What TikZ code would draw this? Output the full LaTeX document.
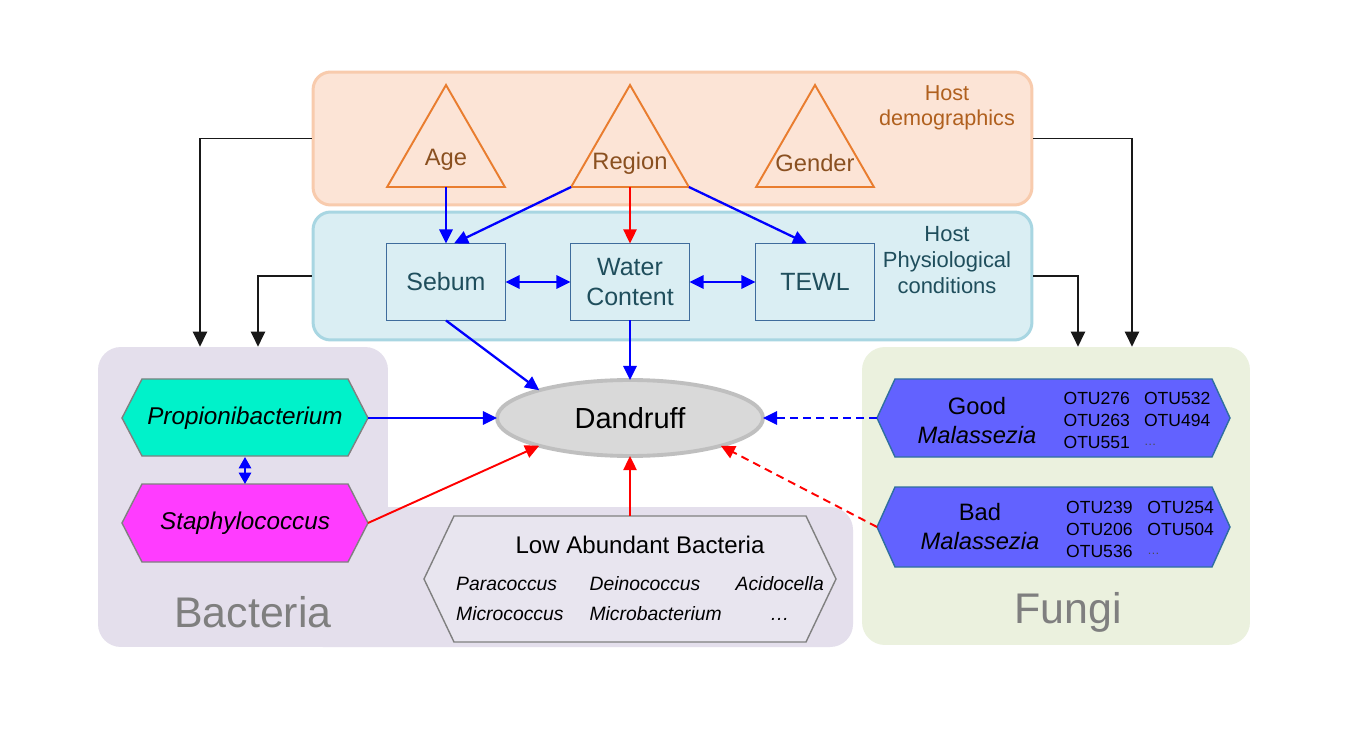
\documentclass[tikz,border=0pt]{standalone}
\usepackage{fontspec}
\setmainfont{Liberation Sans}
\usetikzlibrary{calc,shapes.geometric,arrows.meta}

\definecolor{demofill}{HTML}{FCE4D6}
\definecolor{demoline}{HTML}{F8CBAD}
\definecolor{physfill}{HTML}{DAEEF3}
\definecolor{physline}{HTML}{A8D6E2}
\definecolor{bactfill}{HTML}{E4DFEC}
\definecolor{fungfill}{HTML}{EBF1DE}
\definecolor{triline}{HTML}{E97D2F}
\definecolor{tritext}{HTML}{8A5020}
\definecolor{demotext}{HTML}{B0601E}
\definecolor{boxline}{HTML}{3F6C9C}
\definecolor{boxtext}{HTML}{1F4E5C}
\definecolor{dandfill}{HTML}{D9D9D9}
\definecolor{dandline}{HTML}{BFBFBF}
\definecolor{propfill}{HTML}{00F2CA}
\definecolor{staphfill}{HTML}{FF3CFF}
\definecolor{malfill}{HTML}{6262FF}
\definecolor{malline}{HTML}{2F6F9F}
\definecolor{lowfill}{HTML}{E8E5EF}
\definecolor{hexline}{HTML}{808080}
\definecolor{labelgray}{HTML}{7F7F7F}

\begin{document}
\begin{tikzpicture}[x=0.02cm,y=-0.02cm,
  container/.style={rounded corners=10pt,line width=1.7pt},
  tri/.style={regular polygon,regular polygon sides=3,draw=triline,line width=1.1pt,minimum size=2.72cm,inner sep=0pt,outer sep=0pt},
  tritxt/.style={text=tritext,font=\fontsize{13.5}{16}\selectfont},
  physbox/.style={draw=boxline,fill=physfill,line width=1pt,minimum width=2.38cm,minimum height=1.54cm,align=center,text=boxtext,font=\fontsize{14.2}{17}\selectfont,outer sep=0pt},
  hexnode/.style={minimum height=1.56cm,inner sep=0pt,outer sep=0pt},
  hexname/.style={font=\fontsize{13.8}{16.5}\selectfont\itshape},
  otu/.style={font=\fontsize{10}{12.8}\selectfont},
  biglabel/.style={text=labelgray,font=\fontsize{24.4}{28}\selectfont},
  bluearrow/.style={blue,line width=1.3pt,-{Triangle[length=8pt,width=7.5pt]}},
  bluedouble/.style={blue,line width=1.3pt,{Triangle[length=8pt,width=7.5pt]}-{Triangle[length=8pt,width=7.5pt]}},
  redarrow/.style={red,line width=1.1pt,-{Triangle[length=8pt,width=7.5pt]}},
  blackarrow/.style={black!90,line width=1.1pt,-{Triangle[length=8.5pt,width=8pt]}}]

\useasboundingbox (0,0) rectangle (1352,736);
\fill[white] (0,0) rectangle (1352,736);

% host boxes
\node[container,draw=demoline,fill=demofill,minimum width=14.38cm,minimum height=2.66cm] (demo) at (672.5,138.5) {};
\node[container,draw=physline,fill=physfill,minimum width=14.38cm,minimum height=2.56cm] (phys) at (672.5,276) {};

% bacteria and fungi
\node[rounded corners=13pt,fill=bactfill,minimum width=5.8cm,minimum height=6cm] (bact) at (243,497) {};
\fill[bactfill,rounded corners=13pt] (300,507) rectangle (853,647);
\node[rounded corners=13pt,fill=fungfill,minimum width=7.76cm,minimum height=5.96cm] (fungi) at (1056,496) {};

% demographics
\node[tri] (age) at (446,153) {};
\node[tri] (region) at (630,153) {};
\node[tri] (gender) at (815,153) {};
\node[tritxt] (agetxt) at (446,160) {Age};
\node[tritxt] (regiontxt) at (630,163) {Region};
\node[tritxt] (gendertxt) at (815,163) {Gender};
\node[text=demotext,align=center,font=\fontsize{12.3}{14.2}\selectfont] (demotxt) at (947,108) {Host\\demographics};

% physiology
\node[physbox] (sebum) at (446,282) {Sebum};
\node[physbox] (water) at (630,282) {Water\\Content};
\node[physbox] (tewl) at (815,282) {TEWL};
\node[text=boxtext,align=center,font=\fontsize{12.5}{14.8}\selectfont] (phystxt) at (947,260) {Host\\Physiological\\conditions};

\node[ellipse,draw=dandline,fill=dandfill,line width=2.2pt,minimum width=5.32cm,minimum height=1.52cm,font=\fontsize{16.5}{19}\selectfont,outer sep=0pt] (dand) at (630,418) {Dandruff};

% hexagons
\draw[hexline,fill=propfill,line width=0.8pt] (122,418) -- (142,379) -- (348,379) -- (368,418) -- (348,456) -- (142,456) -- cycle;
\node[hexnode,hexname,minimum width=4.92cm] (propi) at (245,418) {Propionibacterium};
\draw[hexline,fill=staphfill,line width=0.8pt] (122,523) -- (142,484) -- (348,484) -- (368,523) -- (348,562) -- (142,562) -- cycle;
\node[hexnode,hexname,minimum width=4.92cm] (staph) at (245,523) {Staphylococcus};
\draw[hexline,fill=lowfill,line width=0.8pt] (424,579) -- (454,516) -- (806,516) -- (836,579) -- (806,642) -- (454,642) -- cycle;
\node[hexnode,minimum width=8.24cm,minimum height=2.52cm] (low) at (630,579) {};
\node[font=\fontsize{13.7}{16}\selectfont] (lowtitle) at (640,545) {Low Abundant Bacteria};
\node[font=\fontsize{11}{13.5}\selectfont\itshape] (lowlist) at (640,601) {\begin{tabular}{@{}l@{\hspace{14.8pt}}l@{\hspace{8pt}}c@{}}
Paracoccus & Deinococcus & Acidocella\\[3.5pt]
Micrococcus & Microbacterium & \dots
\end{tabular}};

\draw[malline,fill=malfill,line width=0.8pt] (877,418) -- (895,379) -- (1212,379) -- (1230,418) -- (1212,457) -- (895,457) -- cycle;
\node[hexnode,minimum width=7.06cm] (good) at (1053.5,418) {};
\node[align=center,font=\fontsize{13.5}{16.5}\selectfont] (goodtxt) at (977,421) {Good\\\textit{Malassezia}};
\node[otu] (goodotu) at (1137,422) {\begin{tabular}{@{}l@{\hspace{8pt}}l@{}}
OTU276 & OTU532\\ OTU263 & OTU494\\ OTU551 & {\color{black!70}\scriptsize\raisebox{2pt}{\dots}}
\end{tabular}};
\draw[malline,fill=malfill,line width=0.8pt] (877,527) -- (895,487) -- (1212,487) -- (1230,527) -- (1212,567) -- (895,567) -- cycle;
\node[hexnode,minimum width=7.06cm] (bad) at (1053.5,527) {};
\node[align=center,font=\fontsize{13.5}{16.5}\selectfont] (badtxt) at (980,527) {Bad\\\textit{Malassezia}};
\node[otu] (badotu) at (1140,531) {\begin{tabular}{@{}l@{\hspace{8.5pt}}l@{}}
OTU239 & OTU254\\ OTU206 & OTU504\\ OTU536 & {\color{black!70}\scriptsize\raisebox{2pt}{\dots}}
\end{tabular}};

\node[biglabel] (bactlbl) at (253,612) {Bacteria};
\node[biglabel] (fungilbl) at (1068,612) {Fungi};

% connectors
\draw[bluearrow] (age.side 2) -- (sebum.north);
\draw[bluearrow] (region.corner 2) -- ([xshift=0.16cm]sebum.north);
\draw[redarrow] (region.side 2) -- (water.north);
\draw[bluearrow] (region.corner 3) -- ([xshift=-0.16cm]tewl.north);
\draw[bluedouble] (sebum) -- (water);
\draw[bluedouble] (water) -- (tewl);
\draw[bluearrow] (sebum.south) -- (dand.163);
\draw[bluearrow] (water.south) -- (dand.north);
\draw[bluearrow] (propi.east) -- (dand.west);
\draw[blue,line width=1.3pt,{Triangle[length=6.5pt,width=7pt]}-{Triangle[length=6.5pt,width=7pt]}] (propi.south) -- (staph.north);
\draw[redarrow] (staph.east) -- (dand.197);
\draw[redarrow] (low.north) -- (dand.south);
\draw[bluearrow,dash pattern=on 4.5pt off 3pt] (good.west) -- (dand.east);
\draw[redarrow,dash pattern=on 4.5pt off 3pt] (bad.west) -- (dand.-17);

\draw[blackarrow] (demo.west) -| ([xshift=-0.86cm]bact.north);
\draw[blackarrow] (phys.west) -| ([xshift=0.3cm]bact.north);
\draw[blackarrow] (demo.east) -| ([xshift=1.52cm]fungi.north);
\draw[blackarrow] (phys.east) -| ([xshift=0.44cm]fungi.north);
\end{tikzpicture}
\end{document}
